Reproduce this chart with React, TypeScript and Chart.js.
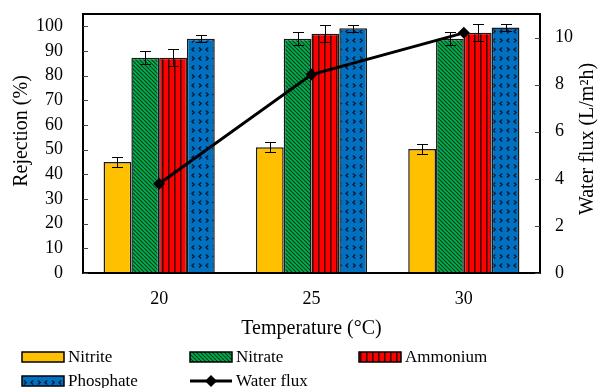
import React, { useEffect, useRef } from "react";
import { Chart, registerables } from "chart.js";

Chart.register(...registerables);

const categories = ["20", "25", "30"];
const nitrite = [45, 51, 50.3];
const nitriteErr = [2, 2, 2];
const nitrate = [87.3, 95, 95];
const nitrateErr = [2.6, 2.5, 2.5];
const ammonium = [87.3, 97, 97.4];
const ammoniumErr = [3.5, 3.4, 3.4];
const phosphate = [95, 99.2, 99.5];
const phosphateErr = [1.5, 1.5, 1.5];
const waterFlux = [3.79, 8.43, 10.2];
const leftTicks = [0, 10, 20, 30, 40, 50, 60, 70, 80, 90, 100];
const rightTicks = [0, 2, 4, 6, 8, 10];

const FONT = '"Liberation Serif", "Times New Roman", serif';

function makeTile(w: number, h: number, draw: (ctx: CanvasRenderingContext2D) => void) {
  const cv = document.createElement("canvas");
  cv.width = w;
  cv.height = h;
  const ctx = cv.getContext("2d")!;
  draw(ctx);
  const main = document.createElement("canvas").getContext("2d")!;
  return main.createPattern(cv, "repeat") as CanvasPattern;
}

function greenPattern() {
  return makeTile(8, 8, (ctx) => {
    ctx.fillStyle = "#00B050";
    ctx.fillRect(0, 0, 8, 8);
    ctx.strokeStyle = "#0d3d1c";
    ctx.lineWidth = 1.2;
    for (let o = -8; o <= 8; o += 4) {
      ctx.beginPath();
      ctx.moveTo(o, 0);
      ctx.lineTo(o + 8, 8);
      ctx.stroke();
    }
  });
}

function redPattern() {
  return makeTile(6, 6, (ctx) => {
    ctx.fillStyle = "#FF0000";
    ctx.fillRect(0, 0, 6, 6);
    ctx.fillStyle = "#3a0000";
    ctx.fillRect(0, 0, 1.5, 6);
  });
}

function bluePattern() {
  return makeTile(14, 18, (ctx) => {
    ctx.fillStyle = "#0070C0";
    ctx.fillRect(0, 0, 14, 18);
    ctx.strokeStyle = "#0b1a33";
    ctx.lineWidth = 1.4;
    const lt = (x: number, y: number) => {
      ctx.beginPath();
      ctx.moveTo(x + 2.2, y - 2);
      ctx.lineTo(x, y);
      ctx.lineTo(x + 2.2, y + 2);
      ctx.stroke();
    };
    const gt = (x: number, y: number) => {
      ctx.beginPath();
      ctx.moveTo(x, y - 2);
      ctx.lineTo(x + 2.2, y);
      ctx.lineTo(x, y + 2);
      ctx.stroke();
    };
    lt(3, 4.5);
    gt(10, 4.5);
    gt(3, 13.5);
    lt(10, 13.5);
  });
}

export default function App() {
  const ref = useRef<HTMLCanvasElement | null>(null);

  useEffect(() => {
    document.body.style.margin = "0";
    const canvas = ref.current!;
    const green = greenPattern();
    const red = redPattern();
    const blue = bluePattern();
    const errs = [nitriteErr, nitrateErr, ammoniumErr, phosphateErr];

    const errorBars = {
      id: "errorBars",
      afterDatasetDraw(chart: any, args: any) {
        const i = args.index;
        if (i > 3) return;
        const ctx = chart.ctx;
        const ys = chart.scales.y;
        const ds = chart.data.datasets[i];
        ctx.save();
        ctx.strokeStyle = "#000";
        ctx.lineWidth = 1;
        args.meta.data.forEach((el: any, j: number) => {
          const v = ds.data[j];
          const e = errs[i][j];
          const x = Math.round(el.x) + 0.5;
          const t = Math.round(ys.getPixelForValue(v + e)) + 0.5;
          const b = Math.round(ys.getPixelForValue(v - e)) + 0.5;
          ctx.beginPath();
          ctx.moveTo(x, t);
          ctx.lineTo(x, b);
          ctx.moveTo(x - 5.5, t);
          ctx.lineTo(x + 5.5, t);
          ctx.moveTo(x - 5.5, b);
          ctx.lineTo(x + 5.5, b);
          ctx.stroke();
        });
        ctx.restore();
      },
    };

    const frame = {
      id: "frame",
      afterDraw(chart: any) {
        const ctx = chart.ctx;
        const a = chart.chartArea;
        const yl = chart.scales.y;
        const yr = chart.scales.y1;
        ctx.save();
        ctx.strokeStyle = "#000";
        ctx.lineWidth = 2;
        ctx.strokeRect(a.left, a.top, a.right - a.left, a.bottom - a.top);
        ctx.lineWidth = 1;
        ctx.strokeStyle = "#444";
        leftTicks.forEach((v) => {
          const y = Math.round(yl.getPixelForValue(v)) + 0.5;
          ctx.beginPath();
          ctx.moveTo(a.left, y);
          ctx.lineTo(a.left + 5, y);
          ctx.stroke();
        });
        rightTicks.forEach((v) => {
          const y = Math.round(yr.getPixelForValue(v)) + 0.5;
          ctx.beginPath();
          ctx.moveTo(a.right - 5, y);
          ctx.lineTo(a.right, y);
          ctx.stroke();
        });
        // titles
        ctx.fillStyle = "#000";
        ctx.font = `20px ${FONT}`;
        ctx.textAlign = "center";
        ctx.textBaseline = "middle";
        ctx.fillText("Temperature (°C)", (a.left + a.right) / 2, 329);
        ctx.save();
        ctx.translate(22, 131);
        ctx.rotate(-Math.PI / 2);
        ctx.fillText("Rejection (%)", 0, 0);
        ctx.restore();
        ctx.save();
        ctx.translate(588, 139);
        ctx.rotate(-Math.PI / 2);
        ctx.fillText("Water flux (L/m²h)", 0, 0);
        ctx.restore();

        // legend
        const ds = chart.data.datasets;
        const items = [
          { i: 0, x: 22, y: 357 },
          { i: 1, x: 190, y: 357 },
          { i: 2, x: 359, y: 357 },
          { i: 3, x: 22, y: 381 },
          { i: 4, x: 190, y: 381 },
        ];
        ctx.font = `17px ${FONT}`;
        ctx.textAlign = "left";
        items.forEach((it) => {
          const d = ds[it.i];
          if (it.i < 4) {
            ctx.fillStyle = d.backgroundColor;
            ctx.fillRect(it.x, it.y - 5, 42, 10);
            ctx.strokeStyle = "#000";
            ctx.lineWidth = 1.5;
            ctx.strokeRect(it.x, it.y - 5, 42, 10);
          } else {
            ctx.strokeStyle = "#000";
            ctx.lineWidth = 3;
            ctx.beginPath();
            ctx.moveTo(it.x, it.y);
            ctx.lineTo(it.x + 42, it.y);
            ctx.stroke();
            ctx.fillStyle = "#000";
            ctx.beginPath();
            const cx = it.x + 21;
            ctx.moveTo(cx, it.y - 6);
            ctx.lineTo(cx + 6, it.y);
            ctx.lineTo(cx, it.y + 6);
            ctx.lineTo(cx - 6, it.y);
            ctx.closePath();
            ctx.fill();
          }
          ctx.fillStyle = "#000";
          ctx.fillText(d.label, it.x + 46, it.y + 1);
        });
        ctx.restore();
      },
    };

    const barCommon = {
      borderColor: "#1a1a1a",
      borderWidth: 1.5,
      yAxisID: "y",
      order: 2,
      categoryPercentage: 0.73,
      barPercentage: 1,
    };

    const noPad = (s: any) => {
      s.paddingTop = 0;
      s.paddingBottom = 0;
    };

    const chart = new Chart(canvas, {
      type: "bar",
      data: {
        labels: categories,
        datasets: [
          { ...barCommon, label: "Nitrite", data: nitrite, backgroundColor: "#FFC000" },
          { ...barCommon, label: "Nitrate", data: nitrate, backgroundColor: green as any },
          { ...barCommon, label: "Ammonium", data: ammonium, backgroundColor: red as any },
          { ...barCommon, label: "Phosphate", data: phosphate, backgroundColor: blue as any },
          {
            type: "line",
            label: "Water flux",
            data: waterFlux,
            yAxisID: "y1",
            order: 0,
            borderColor: "#000",
            backgroundColor: "#000",
            borderWidth: 3,
            pointStyle: "rectRot",
            pointRadius: 6,
            pointBackgroundColor: "#000",
            pointBorderWidth: 0,
            tension: 0,
          } as any,
        ],
      },
      options: {
        responsive: false,
        animation: false,
        devicePixelRatio: 1,
        layout: { padding: { top: 14, left: 0, right: 0, bottom: 0 } },
        plugins: { legend: { display: false }, tooltip: { enabled: false } },
        scales: {
          x: {
            grid: { display: false, drawTicks: false },
            border: { display: false },
            ticks: { color: "#000", font: { family: FONT, size: 18 }, padding: 15 },
            afterFit: (s: any) => {
              s.height = 115;
              s.paddingLeft = 0;
              s.paddingRight = 0;
            },
          },
          y: {
            position: "left",
            min: 0,
            max: 105,
            grid: { display: false, drawTicks: false },
            border: { display: false },
            ticks: {
              stepSize: 10,
              autoSkip: false,
              color: "#000",
              font: { family: FONT, size: 18 },
              padding: 20,
            },
            afterBuildTicks: (s: any) => {
              s.ticks = leftTicks.map((v) => ({ value: v }));
            },
            afterFit: (s: any) => {
              s.width = 83;
              noPad(s);
            },
          },
          y1: {
            position: "right",
            min: 0,
            max: 11,
            grid: { display: false, drawTicks: false },
            border: { display: false },
            ticks: {
              stepSize: 2,
              autoSkip: false,
              color: "#000",
              font: { family: FONT, size: 18 },
              padding: 15,
            },
            afterBuildTicks: (s: any) => {
              s.ticks = rightTicks.map((v) => ({ value: v }));
            },
            afterFit: (s: any) => {
              s.width = 62;
              noPad(s);
            },
          },
        },
      } as any,
      plugins: [errorBars, frame],
    });
    return () => chart.destroy();
  }, []);

  return <canvas ref={ref} width={602} height={388} style={{ display: "block" }} />;
}
